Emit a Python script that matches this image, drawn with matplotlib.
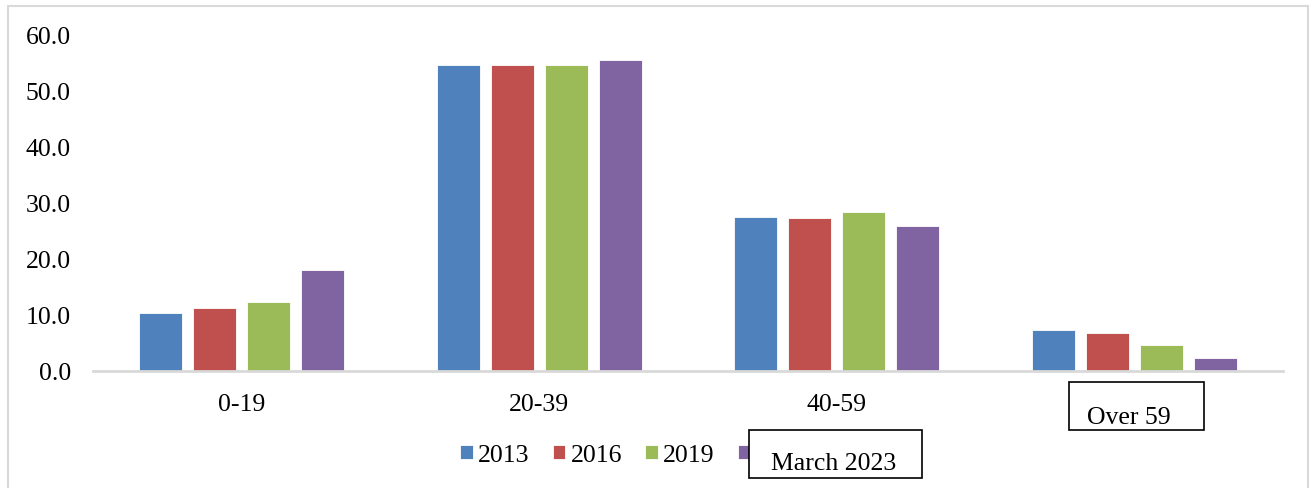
import matplotlib
matplotlib.use("Agg")
import matplotlib.pyplot as plt
import numpy as np
from matplotlib.patches import Rectangle

categories = ["0-19", "20-39", "40-59", "Over 59"]
series_names = ["2013", "2016", "2019", "March 2023"]
v2013 = [10.4, 54.6, 27.5, 7.4]
v2016 = [11.2, 54.6, 27.3, 6.7]
v2019 = [12.4, 54.6, 28.4, 4.6]
v2023 = [18.1, 55.5, 25.9, 2.4]
yticks = [0, 10, 20, 30, 40, 50, 60]

values = [v2013, v2016, v2019, v2023]
colors = ["#4F81BD", "#C0504D", "#9BBB59", "#8064A2"]

plt.rcParams['font.family'] = ['Liberation Serif', 'DejaVu Serif']
FS = 18.5

W, H = 1314, 489
fig = plt.figure(figsize=(W/100, H/100), dpi=100)
ax = fig.add_axes([93/W, 1-372/H, (1283-93)/W, (372-36)/H])

x = np.arange(len(categories))
step = 0.1815
width = 0.143
handles = []
for i, (vals, name, c) in enumerate(zip(values, series_names, colors)):
    b = ax.bar(x + (i-1.5)*step, vals, width, color=c, label=name,
               edgecolor="#ffffff", linewidth=0.6, zorder=3)
    handles.append(b)

ax.set_xlim(-0.5, 3.5)
ax.set_ylim(0, 60)
ax.set_yticks(yticks)
ax.set_yticklabels([f"{t:.1f}" for t in yticks], fontsize=FS)
ax.set_xticks(x)
ax.set_xticklabels(categories[:3] + [""], fontsize=FS)
ax.tick_params(axis='both', length=0)
ax.tick_params(axis='y', pad=16)
ax.tick_params(axis='x', pad=16)
for s in ["top", "right", "left"]:
    ax.spines[s].set_visible(False)
ax.spines["bottom"].set_color("#d9d9d9")
ax.spines["bottom"].set_linewidth(2)
ax.spines["bottom"].set_zorder(4)

# "Over 59" label in box
fig.text(1129/W, 1-418/H, categories[3], ha='center', va='center', fontsize=FS)
fig.add_artist(Rectangle((1069/W, 1-431/H), (1204-1069)/W, (431-383)/H,
                         transform=fig.transFigure, fill=False,
                         edgecolor="black", linewidth=1.2))

leg = fig.legend(handles, series_names[:3] + [" "], loc='center left',
                 bbox_to_anchor=(460/W, 1-456/H), ncol=4,
                 frameon=False, fontsize=FS, handlelength=0.5, handleheight=0.5,
                 handletextpad=0.2, columnspacing=0.9, borderpad=0, borderaxespad=0)

# Box holding the last legend label
fig.add_artist(Rectangle((749/W, 1-479/H), (922-749)/W, (479-431)/H,
                         transform=fig.transFigure, facecolor="white",
                         edgecolor="black", linewidth=1.2, zorder=10))
fig.text(834/W, 1-464/H, series_names[3], ha='center', va='center',
         fontsize=FS, zorder=11)

# outer chart border
fig.add_artist(Rectangle((8/W, -0.05), (1308-8)/W, 1-7/H+0.05,
                         transform=fig.transFigure, fill=False,
                         edgecolor="#d9d9d9", linewidth=1.5))

fig.savefig("out.png", dpi=100)
